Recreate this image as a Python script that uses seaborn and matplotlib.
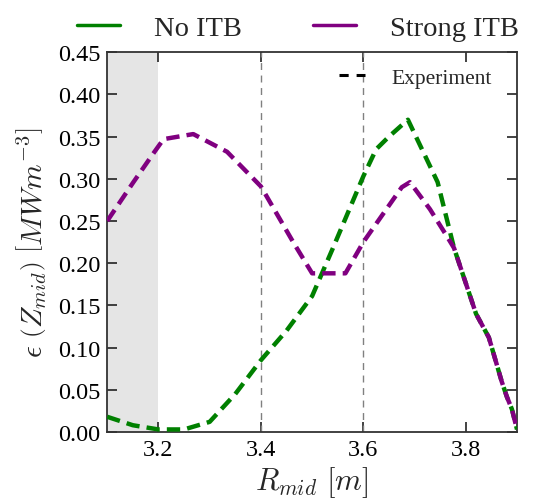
import numpy as np
import pandas as pd
import matplotlib
matplotlib.use("Agg")
import matplotlib.pyplot as plt
from matplotlib.lines import Line2D
import seaborn as sns

# Emissivity profiles along the midplane major radius
r_no_itb = [3.10, 3.15, 3.20, 3.25, 3.30, 3.35, 3.40, 3.45, 3.50, 3.54,
            3.60, 3.625, 3.65, 3.687, 3.745, 3.777, 3.82, 3.845, 3.87,
            3.88, 3.89, 3.90]
eps_no_itb = [0.018, 0.008, 0.003, 0.003, 0.012, 0.045, 0.085, 0.12, 0.161,
              0.217, 0.303, 0.335, 0.35, 0.37, 0.296, 0.218, 0.14, 0.112,
              0.06, 0.042, 0.027, 0.003]

r_strong_itb = [3.10, 3.15, 3.19, 3.21, 3.268, 3.334, 3.40, 3.463, 3.50,
                3.565, 3.60, 3.675, 3.691, 3.73, 3.763, 3.777, 3.82, 3.845,
                3.87, 3.88, 3.89, 3.90]
eps_strong_itb = [0.25, 0.295, 0.33, 0.347, 0.353, 0.332, 0.291, 0.225, 0.188,
                  0.188, 0.225, 0.29, 0.296, 0.264, 0.232, 0.218, 0.14, 0.112,
                  0.06, 0.042, 0.027, 0.003]

series_labels = ["No ITB", "Strong ITB"]
series_colors = ["green", "purple"]
marker_radii = [3.4, 3.6]
shaded_span = [3.1, 3.2]
x_ticks = [3.2, 3.4, 3.6, 3.8]
y_ticks = [0.00, 0.05, 0.10, 0.15, 0.20, 0.25, 0.30, 0.35, 0.40, 0.45]

df = pd.concat([
    pd.DataFrame({"R": r_no_itb, "eps": eps_no_itb, "case": series_labels[0]}),
    pd.DataFrame({"R": r_strong_itb, "eps": eps_strong_itb, "case": series_labels[1]}),
])

sns.set_style("ticks", {"xtick.direction": "in", "ytick.direction": "in",
                        "xtick.top": True, "ytick.right": True})
plt.rcParams["font.family"] = ["Liberation Serif", "DejaVu Serif"]
plt.rcParams["mathtext.fontset"] = "cm"

fig = plt.figure(figsize=(5.36, 5.02), dpi=100)
ax = fig.add_axes([0.2, 0.1375, 0.7646, 0.7565])

ax.axvspan(shaded_span[0], shaded_span[1], color="#e5e5e5", lw=0, zorder=0)
for xv in marker_radii:
    ax.axvline(xv, color="gray", lw=1.0, ls=(0, (5, 4)), zorder=1)

sns.lineplot(data=df, x="R", y="eps", hue="case", palette=series_colors,
             hue_order=series_labels, sort=False, estimator=None,
             lw=3.2, legend=False, ax=ax, zorder=3)
for line in ax.get_lines()[-2:]:
    line.set_dashes((3.0, 1.6))

ax.set_xlim(3.1, 3.9)
ax.set_ylim(0.0, 0.45)
ax.set_xticks(x_ticks)
ax.set_yticks(y_ticks)
ax.set_xticklabels([f"{v:.1f}" for v in x_ticks])
ax.set_yticklabels([f"{v:.2f}" for v in y_ticks])
ax.tick_params(axis="both", which="major", direction="in", length=7,
               width=1.2, color="#222222", labelcolor="black",
               labelsize=17.5, pad=5, top=True, right=True)
# Inward tick marks on all four sides
for tick in ax.xaxis.get_major_ticks() + ax.yaxis.get_major_ticks():
    for tl in (tick.tick1line, tick.tick2line):
        tl.set_visible(True)
        tl.set_markersize(7)
        tl.set_markeredgewidth(1.2)
        tl.set_markeredgecolor("#222222")
        tl.set_zorder(5)
for sp in ax.spines.values():
    sp.set_color("#333333")
    sp.set_linewidth(1.3)

ax.set_xlabel(r"$R_{mid}\ [m]$", fontsize=22, labelpad=3)
ax.set_ylabel(r"$\epsilon\ \left(Z_{mid}\right)\ \left[MWm^{-3}\right]$",
              fontsize=21, labelpad=6)

# Series legend above the axes
handles = [Line2D([0], [0], color=c, lw=2.5) for c in series_colors]
fig.legend(handles, series_labels, loc="upper center", ncol=2, frameon=False,
           fontsize=20.5, bbox_to_anchor=(0.556, 1.02), handlelength=1.5,
           columnspacing=2.5, handletextpad=1.2)

# Experiment marker legend inside the axes
exp_handle = Line2D([0], [0], color="black", lw=2.2, ls=(0, (3, 2.6)))
ax.legend([exp_handle], ["Experiment"], loc="upper right", frameon=False,
          fontsize=15.5, handlelength=1.2, handletextpad=1.2,
          bbox_to_anchor=(0.985, 1.01))

fig.savefig("out.png", dpi=100)
